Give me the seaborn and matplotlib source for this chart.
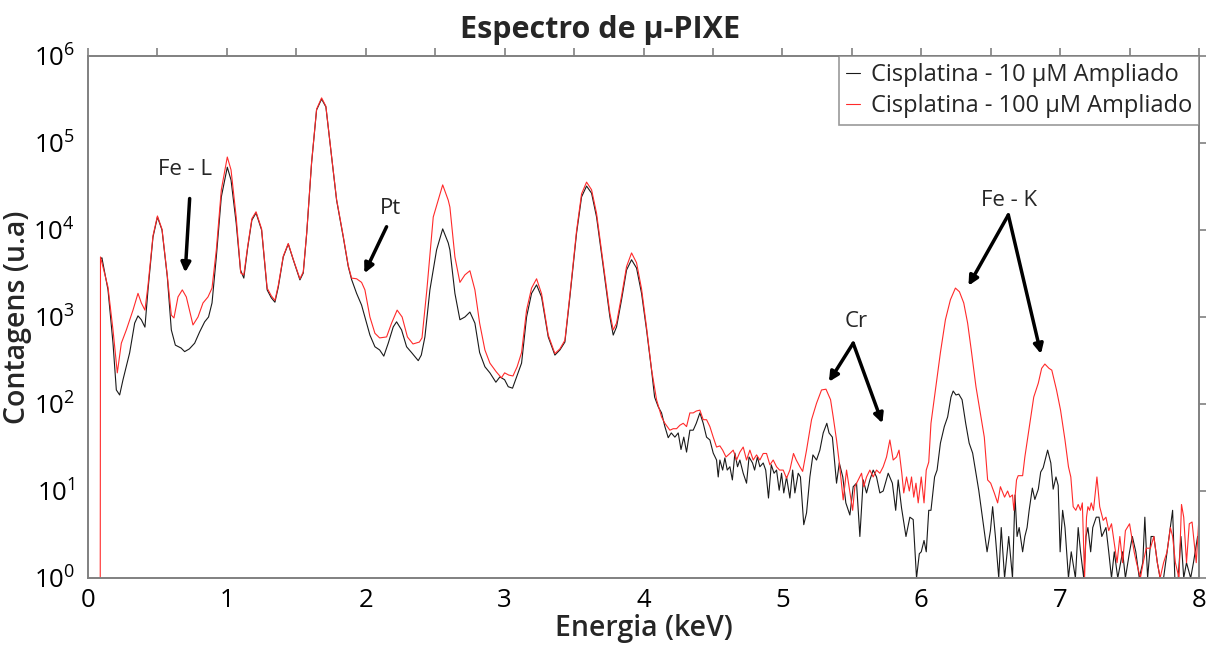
import matplotlib
matplotlib.use("Agg")
import matplotlib.pyplot as plt
import matplotlib.ticker as mticker
import seaborn as sns
import pandas as pd

# ---- data ----
energy_10 = [0.095, 0.10, 0.144, 0.18, 0.204, 0.228, 0.252, 0.30, 0.336, 0.36, 0.384, 0.41, 0.432, 0.468, 0.50,
             0.533, 0.571, 0.60, 0.629, 0.67, 0.696, 0.73, 0.768, 0.804, 0.84, 0.868, 0.893, 0.924, 0.96, 1.003,
             1.03, 1.067, 1.098, 1.122, 1.15, 1.18, 1.21, 1.25, 1.29, 1.32, 1.346, 1.37, 1.406, 1.442, 1.478,
             1.526, 1.55, 1.575, 1.61, 1.646, 1.682, 1.713, 1.754, 1.79, 1.838, 1.874, 1.898, 1.934, 1.97, 1.994,
             2.03, 2.066, 2.10, 2.13, 2.162, 2.198, 2.222, 2.258, 2.294, 2.33, 2.378, 2.40, 2.426, 2.462, 2.51,
             2.554, 2.594, 2.606, 2.642, 2.678, 2.714, 2.75, 2.786, 2.82, 2.858, 2.894, 2.937, 2.966, 3.0, 3.026,
             3.057, 3.086, 3.122, 3.158, 3.194, 3.23, 3.266, 3.314, 3.362, 3.398, 3.434, 3.47, 3.518, 3.554, 3.59,
             3.626, 3.662, 3.71, 3.758, 3.782, 3.806, 3.842, 3.878, 3.914, 3.95, 3.986, 4.022, 4.046, 4.058, 4.08,
             4.106, 4.13, 4.154, 4.178, 4.20, 4.226, 4.25, 4.27, 4.29, 4.31, 4.334, 4.358, 4.38, 4.406, 4.43,
             4.454, 4.478, 4.502, 4.526, 4.538, 4.55, 4.57, 4.586, 4.603, 4.622, 4.64, 4.658, 4.677, 4.694, 4.718,
             4.742, 4.76, 4.785, 4.80, 4.82, 4.838, 4.862, 4.88, 4.90, 4.92, 4.94, 4.958, 4.977, 4.994, 5.01,
             5.03, 5.054, 5.074, 5.09, 5.114, 5.13, 5.154, 5.174, 5.198, 5.22, 5.246, 5.27, 5.294, 5.32, 5.336,
             5.36, 5.39, 5.41, 5.435, 5.457, 5.486, 5.51, 5.534, 5.558, 5.582, 5.606, 5.63, 5.654, 5.678, 5.702,
             5.726, 5.762, 5.792, 5.816, 5.834, 5.858, 5.89, 5.918, 5.942, 5.966, 5.986, 6.0, 6.02, 6.036, 6.054,
             6.07, 6.096, 6.114, 6.138, 6.166, 6.19, 6.214, 6.23, 6.25, 6.27, 6.294, 6.32, 6.345, 6.37, 6.39,
             6.414, 6.44, 6.474, 6.498, 6.514, 6.534, 6.558, 6.576, 6.6, 6.63, 6.657, 6.675, 6.69, 6.705, 6.73,
             6.746, 6.762, 6.777, 6.80, 6.818, 6.843, 6.86, 6.878, 6.91, 6.933, 6.95, 6.97, 6.986, 7.0, 7.018,
             7.035, 7.06, 7.08, 7.11, 7.13, 7.147, 7.17, 7.186, 7.2, 7.22, 7.235, 7.26, 7.28, 7.3, 7.33,
             7.35, 7.37, 7.39, 7.415, 7.45, 7.47, 7.5, 7.52, 7.545, 7.57, 7.595, 7.61, 7.63, 7.655, 7.675,
             7.7, 7.72, 7.745, 7.77, 7.79, 7.81, 7.826, 7.85, 7.87, 7.89, 7.91, 7.94, 7.96, 7.99]
counts_10 = [4700, 4800, 2050, 500, 145, 127, 190, 388, 850, 1030, 930, 765, 2050, 8300, 14100,
             10000, 2900, 710, 475, 440, 400, 430, 500, 675, 880, 1000, 1450, 4900, 24000, 52700,
             37500, 12000, 3470, 2800, 6300, 13000, 15700, 10000, 2050, 1660, 1480, 2200, 4900, 6900, 4550,
             2670, 3200, 9200, 59000, 240000, 320000, 260000, 69000, 22000, 8300, 3800, 2700, 1870, 1370, 1000,
             620, 455, 418, 355, 500, 770, 880, 710, 455, 390, 315, 365, 590, 2050, 5900,
             10300, 7100, 5900, 1870, 930, 1000, 1140, 850, 390, 268, 228, 178, 205, 190, 158,
             152, 205, 295, 1000, 1870, 2340, 1700, 590, 365, 418, 515, 1700, 9200, 24000, 32000,
             26500, 14100, 3800, 1000, 620, 770, 1580, 3470, 4550, 3650, 1870, 710, 345, 245, 120,
             93, 79, 55, 41, 46.5, 41.6, 46.5, 30, 41.6, 28, 50, 50, 60, 79, 60,
             41.6, 38.6, 27.3, 22.7, 14.5, 22.7, 17.4, 24, 17.4, 19, 13.4, 27.3, 19, 22.7, 16,
             12.3, 24.6, 21, 17.4, 24.6, 19, 21, 17.4, 8.3, 20, 16, 17.4, 10.2, 16, 9.5,
             14.5, 8.3, 17.4, 9.5, 16, 14.5, 4.1, 5.6, 14.5, 26, 22.7, 29.5, 46.5, 60, 46.5,
             41.6, 12.3, 21, 14.5, 7.3, 5.3, 11.2, 12.3, 3.0, 13.4, 9.5, 13.4, 17.4, 14.5, 9.5,
             10, 16, 12.3, 6, 13.4, 6.4, 3.0, 5, 4.7, 1, 1.9, 2.0, 2.7, 2.0, 6,
             6, 14.5, 17.4, 35.5, 55, 71, 120, 141, 127, 130, 112, 60, 35.5, 27.3, 17.4,
             10.2, 5, 2.0, 3.5, 6.6, 3.0, 1, 3.8, 1, 3.0, 1, 9, 3.0, 3.8, 2.0,
             3.0, 3.8, 6, 10.8, 8, 10.5, 16.5, 18.5, 29.5, 21, 10.5, 14.5, 11.6, 2.0, 6,
             3.8, 1, 2, 1, 3.8, 2, 1, 3.0, 3.8, 2, 3.8, 5, 5, 3.0, 3.8,
             2, 1, 2, 1, 2, 1, 2, 3.0, 2, 1, 1.5, 5, 1, 3.0, 3.0,
             1.5, 1, 1, 2, 3.5, 6, 1, 1, 3.0, 1, 1.5, 1, 1.5, 3.0]

energy_100 = [0.088, 0.09, 0.144, 0.18, 0.211, 0.24, 0.276, 0.324, 0.36, 0.384, 0.41, 0.432, 0.468, 0.50, 0.533,
              0.571, 0.60, 0.619, 0.648, 0.679, 0.708, 0.756, 0.792, 0.828, 0.864, 0.893, 0.924, 0.96, 1.003, 1.03,
              1.067, 1.10, 1.122, 1.15, 1.18, 1.21, 1.25, 1.29, 1.32, 1.346, 1.37, 1.406, 1.442, 1.478, 1.526,
              1.55, 1.575, 1.61, 1.646, 1.682, 1.713, 1.754, 1.79, 1.838, 1.874, 1.898, 1.934, 1.97, 1.994, 2.03,
              2.066, 2.10, 2.15, 2.186, 2.226, 2.262, 2.30, 2.34, 2.386, 2.405, 2.44, 2.486, 2.554, 2.594, 2.606,
              2.642, 2.678, 2.714, 2.75, 2.786, 2.82, 2.858, 2.894, 2.94, 2.977, 3.0, 3.03, 3.06, 3.09, 3.122,
              3.158, 3.194, 3.23, 3.266, 3.314, 3.362, 3.398, 3.434, 3.47, 3.518, 3.554, 3.59, 3.626, 3.662, 3.71,
              3.758, 3.782, 3.806, 3.842, 3.878, 3.914, 3.95, 3.986, 4.022, 4.046, 4.058, 4.094, 4.13, 4.154, 4.19,
              4.214, 4.238, 4.262, 4.286, 4.31, 4.334, 4.358, 4.38, 4.406, 4.43, 4.454, 4.478, 4.502, 4.526, 4.55,
              4.57, 4.594, 4.622, 4.646, 4.67, 4.694, 4.718, 4.742, 4.766, 4.79, 4.814, 4.838, 4.862, 4.886, 4.91,
              4.934, 4.958, 4.98, 5.006, 5.03, 5.054, 5.08, 5.10, 5.126, 5.146, 5.174, 5.21, 5.246, 5.282, 5.314,
              5.347, 5.366, 5.39, 5.41, 5.438, 5.462, 5.48, 5.506, 5.522, 5.546, 5.57, 5.586, 5.606, 5.63, 5.654,
              5.678, 5.702, 5.726, 5.75, 5.774, 5.798, 5.822, 5.84, 5.86, 5.874, 5.894, 5.914, 5.93, 5.946, 5.962,
              5.978, 6.0, 6.02, 6.036, 6.054, 6.07, 6.102, 6.138, 6.174, 6.21, 6.246, 6.275, 6.306, 6.334, 6.36,
              6.394, 6.43, 6.454, 6.478, 6.50, 6.526, 6.55, 6.57, 6.60, 6.622, 6.638, 6.657, 6.667, 6.686, 6.698,
              6.73, 6.746, 6.782, 6.81, 6.843, 6.867, 6.89, 6.92, 6.94, 6.974, 7.003, 7.035, 7.06, 7.077, 7.094,
              7.113, 7.13, 7.147, 7.16, 7.176, 7.19, 7.20, 7.212, 7.224, 7.24, 7.265, 7.285, 7.31, 7.33, 7.35,
              7.37, 7.39, 7.41, 7.43, 7.45, 7.47, 7.50, 7.515, 7.533, 7.55, 7.578, 7.598, 7.62, 7.65, 7.675,
              7.70, 7.72, 7.745, 7.77, 7.794, 7.81, 7.83, 7.856, 7.874, 7.89, 7.91, 7.93, 7.95, 7.98, 8.0]
counts_100 = [0.5, 4900, 2200, 710, 228, 500, 710, 1200, 1870, 1450, 1200, 2300, 8600, 14500, 10200,
              3000, 1050, 975, 1700, 2050, 1700, 810, 1000, 1450, 1700, 2150, 5900, 29000, 69000, 49000,
              14100, 3200, 3050, 6500, 13500, 16200, 10300, 2150, 1750, 1550, 2300, 5000, 7000, 4600, 2750,
              3300, 9400, 60000, 245000, 330000, 265000, 70000, 22500, 8500, 3900, 2800, 2750, 2500, 2050, 1000,
              650, 575, 590, 850, 1200, 1000, 590, 490, 515, 575, 2050, 14100, 33000, 22000, 18300,
              4900, 2500, 3050, 3400, 2050, 850, 418, 295, 234, 200, 228, 215, 210, 268, 390,
              1200, 2150, 2750, 1850, 620, 380, 430, 540, 1800, 9800, 26000, 35500, 29000, 15500, 4100,
              1100, 710, 850, 1750, 3800, 5450, 4200, 2100, 760, 360, 250, 112, 71, 60, 50,
              52, 52, 57, 60, 55, 79, 79, 83, 85, 66, 66, 55, 41.6, 32, 33,
              29.5, 24.6, 27, 29.5, 22.7, 28, 32, 22.7, 29.5, 22.7, 26, 22.7, 27, 27, 20,
              22.7, 19, 17.4, 17.4, 14, 17.4, 27, 22.7, 19, 16.8, 29.5, 66, 102, 145, 148,
              112, 71, 38.6, 21, 7.9, 17.4, 11.2, 6, 11.2, 13.4, 16, 11.2, 14.5, 17.4, 14.5,
              17.4, 16, 19, 24.6, 38.6, 22.7, 24.6, 29.5, 16, 9.5, 14.5, 10, 14.5, 8.5, 12.3,
              7.3, 14.5, 7.3, 17.4, 21.5, 60, 145, 390, 930, 1580, 2150, 1950, 1450, 850, 418,
              158, 71, 41.6, 13.4, 12.3, 9.5, 7.3, 11.2, 8.5, 10, 8.5, 9, 6, 13.4, 15,
              15, 24.6, 60, 120, 174, 257, 288, 257, 245, 145, 85, 38.6, 19, 14.5, 6.6,
              6, 7, 6, 7.3, 1, 5, 6.6, 6, 7.3, 6, 14.5, 6.6, 4.6, 5, 3.5,
              4.2, 2.5, 1.5, 3.0, 1.5, 3.5, 4.2, 3.0, 2.0, 1.5, 1, 1.5, 2.2, 2.2, 3.0,
              1.5, 1, 1.5, 2.0, 3.8, 3.0, 1.5, 1, 7, 5, 1.5, 4.2, 4.4, 1.5, 5]

series_labels = ["Cisplatina - 10 µM Ampliado", "Cisplatina - 100 µM Ampliado"]
title_text = "Espectro de µ-PIXE"
x_label = "Energia (keV)"
y_label = "Contagens (u.a)"

# annotations: text, text position (keV, counts), arrow start, arrow tips
ann_fel = ("Fe - L", (0.70, 49000), (0.732, 23000), [(0.70, 3250)])
ann_pt = ("Pt", (2.18, 17800), (2.15, 10900), [(1.99, 3180)])
ann_cr = ("Cr", (5.53, 880), (5.51, 500), [(5.335, 180), (5.72, 60)])
ann_fek = ("Fe - K", (6.63, 22100), (6.627, 14900), [(6.34, 2290), (6.862, 376)])
annotations = [ann_fel, ann_pt, ann_cr, ann_fek]

# ---- style ----
sns.set_style("white")
plt.rcParams["font.family"] = ["Open Sans", "DejaVu Sans"]
plt.rcParams["mathtext.fontset"] = "custom"
plt.rcParams["mathtext.rm"] = "Open Sans"
plt.rcParams["mathtext.it"] = "Open Sans"
plt.rcParams["mathtext.bf"] = "Open Sans:bold"
plt.rcParams["mathtext.default"] = "regular"

fig = plt.figure(figsize=(12.06, 6.46), dpi=100)
ax = fig.add_axes([88 / 1206, 1 - 578 / 646, (1199 - 88) / 1206, (578 - 56) / 646])

df10 = pd.DataFrame({"e": energy_10, "c": counts_10})
df100 = pd.DataFrame({"e": energy_100, "c": counts_100})
sns.lineplot(data=df10, x="e", y="c", ax=ax, color="#1a1a1a", lw=0.8,
             estimator=None, sort=False, label=series_labels[0])
sns.lineplot(data=df100, x="e", y="c", ax=ax, color="#ff2a2a", lw=0.8,
             estimator=None, sort=False, label=series_labels[1])

ax.set_yscale("log")
ax.set_xlim(0, 8)
ax.set_ylim(1, 1e6)
ax.set_xticks(range(0, 9))
ax.xaxis.set_minor_locator(mticker.MultipleLocator(0.5))
ax.yaxis.set_major_locator(mticker.LogLocator(base=10, numticks=10))
ax.yaxis.set_minor_locator(mticker.NullLocator())

spine_c = "#808080"
for s in ax.spines.values():
    s.set_color(spine_c)
    s.set_linewidth(1.4)
ax.tick_params(axis="both", which="both", direction="out", colors=spine_c,
               labelcolor="black", top=True, right=True, width=1.2)
ax.tick_params(axis="both", which="major", length=6, labelsize=18.5)
ax.tick_params(axis="x", which="minor", length=6)
ax.tick_params(axis="x", pad=1)

ax.set_xlabel(x_label, fontsize=20.5, fontweight="semibold", labelpad=1)
ax.set_ylabel(y_label, fontsize=20.5, fontweight="semibold", labelpad=1)
ax.set_title(title_text, fontsize=22, fontweight="bold", pad=13,
             x=(600 - 88) / 1111)

leg = ax.legend(loc="upper right", borderaxespad=0, fontsize=17, frameon=True,
                fancybox=False, handlelength=0.6, handletextpad=0.45,
                borderpad=0.3, labelspacing=0.3)
leg.get_frame().set_edgecolor(spine_c)
leg.get_frame().set_linewidth(1.2)

for text, tpos, apex, tips in annotations:
    ax.text(tpos[0], tpos[1], text, fontsize=16, ha="center", va="center")
    for tip in tips:
        ax.annotate("", xy=tip, xytext=apex,
                    arrowprops=dict(arrowstyle="-|>", color="black", lw=2.5,
                                    mutation_scale=14, shrinkA=0, shrinkB=0))

fig.savefig("out.png", dpi=100)
